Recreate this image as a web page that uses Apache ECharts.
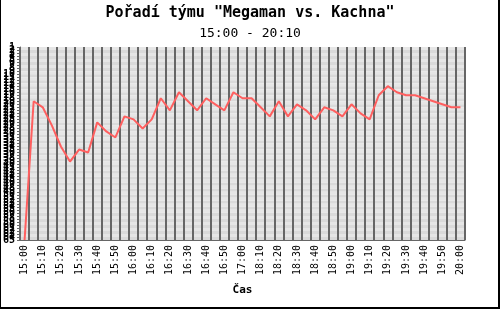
<!DOCTYPE html>
<html>
<head>
<meta charset="utf-8">
<script src="https://cdn.jsdelivr.net/npm/echarts@6/dist/echarts.min.js"></script>
<style>
html,body{margin:0;padding:0;background:#fff;}
#wrap{position:relative;width:500px;height:309px;}
#chart{width:500px;height:309px;}
#frame{position:absolute;left:0;top:0;width:500px;height:309px;box-sizing:border-box;border-left:1px solid #000;border-right:2px solid #000;border-bottom:2px solid #000;pointer-events:none;}
</style>
</head>
<body>
<div id="wrap"><div id="chart"></div><div id="frame"></div></div>
<script>
var titleText = 'Pořadí týmu "Megaman vs. Kachna"';
var subtitleText = '15:00 - 20:10';
var xAxisName = 'Čas';
var categories = [
  '15:00','15:05','15:10','15:15','15:20','15:25','15:30','15:35','15:40','15:45',
  '15:50','15:55','16:00','16:05','16:10','16:15','16:20','16:25','16:30','16:35',
  '16:40','16:45','16:50','16:55','17:00','18:05','18:10','18:15','18:20','18:25',
  '18:30','18:35','18:40','18:45','18:50','18:55','19:00','19:05','19:10','19:15',
  '19:20','19:25','19:30','19:35','19:40','19:45','19:50','19:55','20:00'
];
var rank = [
  65,19,21,27,34,39,35,36,26,29,
  31,24,25,28,25,18,22,16,19,22,
  18,20,22,16,18,18,21,24,19,24,
  20,22,25,21,22,24,20,23,25,17,
  14,16,17,17,18,19,20,21,21
];
var rankTickLabels = [
  '1','2','3','4','5','6','7','8','9','10','11','12','13','14','15','16','17','18','19','20',
  '21','22','23','24','25','26','27','28','29','30','31','32','33','34','35','36','37','38','39','40',
  '41','42','43','44','45','46','47','48','49','50','51','52','53','54','55','56','57','58','59','60',
  '61','62','63','64','65'
];
var rankMin = 1, rankMax = 65;

var chart = echarts.init(document.getElementById('chart'), null, {renderer:'canvas'});
var mono = 'DejaVu Sans Mono';
chart.setOption({
  animation:false,
  backgroundColor:'#fff',
  title:[
    {text:titleText,left:'center',top:6,padding:0,textStyle:{fontFamily:mono,fontSize:15,fontWeight:'bold',color:'#000'}},
    {text:subtitleText,left:'center',top:27,padding:0,textStyle:{fontFamily:mono,fontSize:13,fontWeight:'normal',color:'#000'}}
  ],
  grid:{left:20,top:47,width:445,height:193,containLabel:false},
  xAxis:{
    type:'category',
    data:categories,
    boundaryGap:true,
    name:xAxisName,
    nameLocation:'middle',
    nameGap:45,
    nameTextStyle:{fontFamily:mono,fontSize:11,fontWeight:'bold',color:'#000'},
    axisLine:{show:true,lineStyle:{color:'#666',width:1}},
    axisTick:{show:false},
    axisLabel:{interval:1,rotate:90,margin:5,fontFamily:mono,fontSize:10,color:'#000'},
    splitLine:{show:true,interval:0,lineStyle:{color:'#666',width:2}}
  },
  yAxis:[{
    type:'value',
    inverse:true,
    min:rankMin,
    max:rankMax,
    interval:1,
    axisLine:{show:true,lineStyle:{color:'#666',width:1}},
    axisTick:{show:true,inside:false,length:3,lineStyle:{color:'#666'}},
    axisLabel:{show:false},
    splitLine:{show:false},
    splitArea:{show:true,areaStyle:{color:['#e6e6e6','#dadada']}}
  },{
    type:'category',
    position:'left',
    inverse:true,
    boundaryGap:false,
    data:rankTickLabels,
    axisLine:{show:false},
    axisTick:{show:false},
    splitLine:{show:false},
    splitArea:{show:false},
    axisLabel:{interval:0,margin:5,fontFamily:mono,fontSize:10,fontWeight:'bold',color:'#000',hideOverlap:false}
  }],
  series:[{
    type:'line',
    yAxisIndex:0,
    data:rank,
    symbol:'none',
    lineStyle:{color:'#ff5f5f',width:2},
    itemStyle:{color:'#ff5f5f'}
  }]
});
</script>
</body>
</html>
